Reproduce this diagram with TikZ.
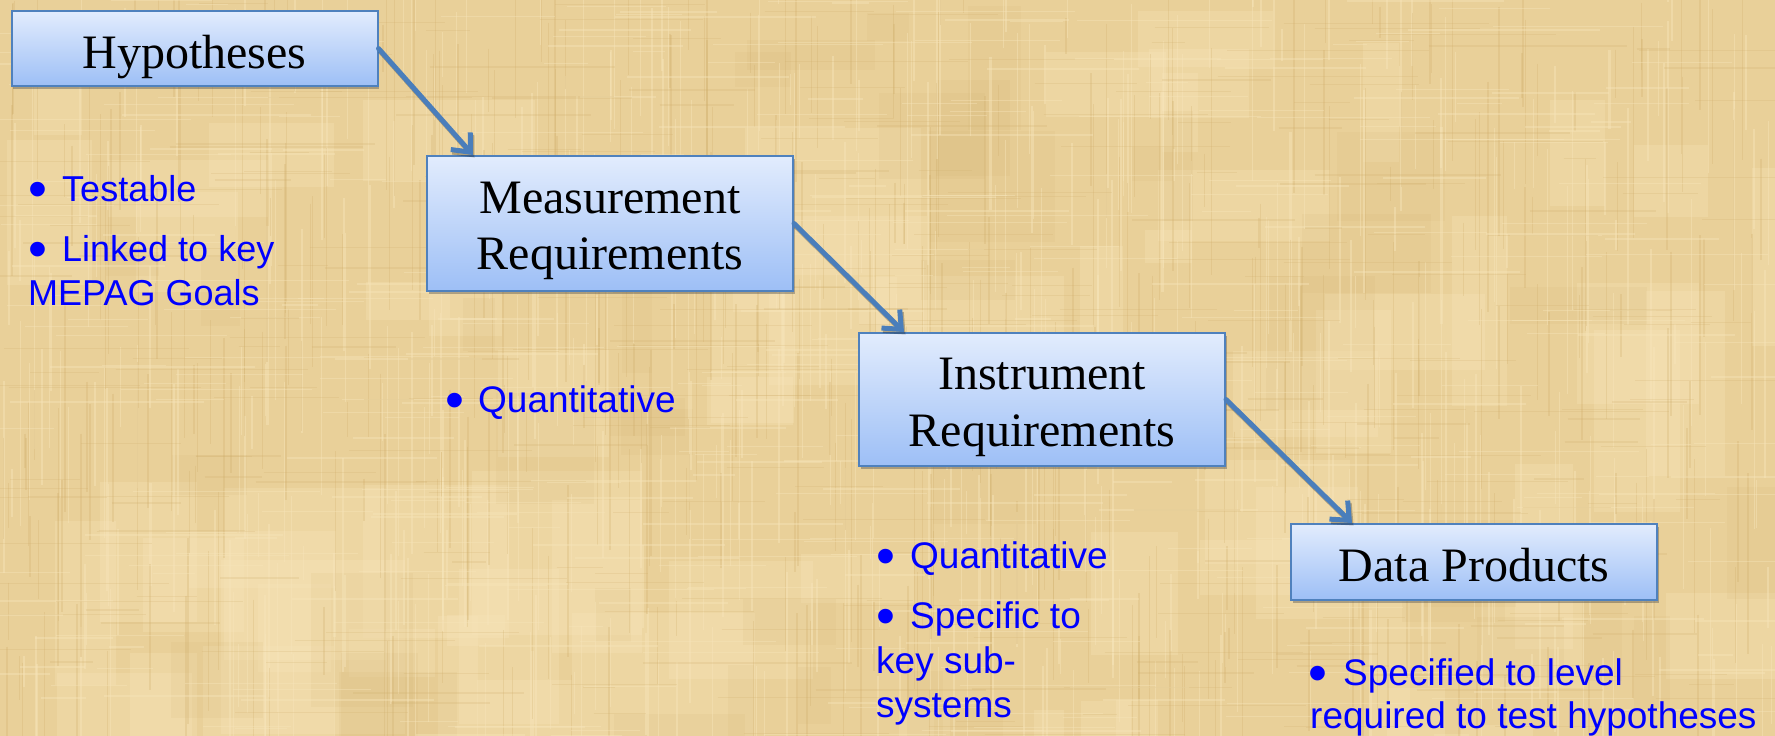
\documentclass[tikz,border=0pt]{standalone}
\usepackage{fontspec}
\setmainfont{Liberation Serif}
\newfontfamily\arialf{Liberation Sans}
\usetikzlibrary{arrows.meta,shadows,calc}
\definecolor{paper}{RGB}{233,208,153}
\definecolor{paperlight}{RGB}{247,229,186}
\definecolor{paperdark}{RGB}{206,172,104}
\definecolor{boxborder}{RGB}{79,129,189}
\definecolor{boxtop}{RGB}{226,236,253}
\definecolor{boxbot}{RGB}{157,191,246}
\definecolor{arrowblue}{RGB}{74,126,187}
\definecolor{bulblue}{RGB}{0,0,255}
\newcommand{\bigbul}[1]{\makebox[0pt][l]{\raisebox{-6pt}{\fontsize{54}{54}\selectfont •}}\hspace{#1}}
\tikzset{
  box/.style={draw=boxborder, line width=2pt, top color=boxtop, bottom color=boxbot,
    minimum width=366pt, inner sep=0pt,
    drop shadow={shadow xshift=1.5pt, shadow yshift=-3pt, opacity=0.4, fill=black!70}},
  boxlabel/.style={font=\fontsize{48}{56}\selectfont, inner sep=0pt, anchor=base},
  bullettext/.style={font=\arialf\fontsize{37}{44}\selectfont, text=bulblue, inner sep=0pt, anchor=base west},
  bullettextsmall/.style={bullettext, font=\arialf\fontsize{36}{44}\selectfont},
  conn/.style={draw=arrowblue, line width=5pt, line cap=round,
    -{Straight Barb[length=15pt, width=26pt, line width=5pt]}},
  connshadow/.style={draw=black, opacity=0.25, line width=5pt,
    -{Straight Barb[length=15pt, width=26pt, line width=5pt]}},
}
\begin{document}
\begin{tikzpicture}[x=1pt,y=-1pt]
\useasboundingbox (0,0) rectangle (1775,736);
% parchment background
\fill[paper] (0,0) rectangle (1775,736);
\pgfmathsetseed{7}
\foreach \i in {1,...,70}{
  \pgfmathsetmacro\xx{rnd*1775}
  \pgfmathsetmacro\yy{rnd*736}
  \pgfmathsetmacro\ww{30+rnd*160}
  \pgfmathsetmacro\hh{30+rnd*160}
  \fill[paperlight, opacity=0.3] (\xx,\yy) rectangle ++(\ww,\hh);
}
\foreach \i in {1,...,40}{
  \pgfmathsetmacro\xx{rnd*1775}
  \pgfmathsetmacro\yy{rnd*736}
  \pgfmathsetmacro\ww{20+rnd*120}
  \pgfmathsetmacro\hh{20+rnd*120}
  \fill[paperdark, opacity=0.1] (\xx,\yy) rectangle ++(\ww,\hh);
}
\foreach \i in {1,...,500}{
  \pgfmathsetmacro\xx{rnd*1775}
  \pgfmathsetmacro\yy{rnd*736-60}
  \pgfmathsetmacro\ll{30+rnd*200}
  \pgfmathsetmacro\lw{0.6+rnd*1.6}
  \draw[paperlight, line width=\lw pt, opacity=0.45] (\xx,\yy) -- ++(0,\ll);
}
\foreach \i in {1,...,420}{
  \pgfmathsetmacro\xx{rnd*1775}
  \pgfmathsetmacro\yy{rnd*736-60}
  \pgfmathsetmacro\ll{30+rnd*200}
  \pgfmathsetmacro\lw{0.6+rnd*1.4}
  \draw[paperdark, line width=\lw pt, opacity=0.25] (\xx,\yy) -- ++(0,\ll);
}
\foreach \i in {1,...,380}{
  \pgfmathsetmacro\xx{rnd*1775-60}
  \pgfmathsetmacro\yy{rnd*736}
  \pgfmathsetmacro\ll{30+rnd*180}
  \pgfmathsetmacro\lw{0.6+rnd*1.4}
  \draw[paperlight, line width=\lw pt, opacity=0.4] (\xx,\yy) -- ++(\ll,0);
}
\foreach \i in {1,...,300}{
  \pgfmathsetmacro\xx{rnd*1775-60}
  \pgfmathsetmacro\yy{rnd*736}
  \pgfmathsetmacro\ll{30+rnd*180}
  \pgfmathsetmacro\lw{0.6+rnd*1.2}
  \draw[paperdark, line width=\lw pt, opacity=0.2] (\xx,\yy) -- ++(\ll,0);
}

% boxes
\node[box, minimum height=75pt]  (hyp)  at (194.5,48.5) {};
\node[box, minimum height=135pt] (meas) at (610,223.5) {};
\node[box, minimum height=133pt] (inst) at (1042,399.5) {};
\node[box, minimum height=76pt]  (data) at (1474,562) {};

% box labels
\node[boxlabel] (hypl)   at ([yshift=-19.5pt]hyp.center)  {Hypotheses};
\node[boxlabel] (measl1) at ([yshift=10.5pt]meas.center)  {Measurement};
\node[boxlabel] (measl2) at ([yshift=-45.5pt]meas.center) {Requirements};
\node[boxlabel] (instl1) at ([yshift=10.5pt]inst.center)  {Instrument};
\node[boxlabel] (instl2) at ([yshift=-46.5pt]inst.center) {Requirements};
\node[boxlabel] (datal)  at ([yshift=-19pt]data.center)   {Data Products};

% connectors (shadows then arrows)
\coordinate (e1) at ($(meas.north west)+(47,0)$);
\coordinate (e2) at ($(inst.north west)+(46,0)$);
\coordinate (e3) at ($(data.north west)+(62,0)$);
\draw[connshadow] ([xshift=1.5pt,yshift=-2.5pt]hyp.east)  -- ([xshift=1.5pt,yshift=-2.5pt]e1);
\draw[connshadow] ([xshift=1.5pt,yshift=-2.5pt]meas.east) -- ([xshift=1.5pt,yshift=-2.5pt]e2);
\draw[connshadow] ([xshift=1.5pt,yshift=-2.5pt]inst.east) -- ([xshift=1.5pt,yshift=-2.5pt]e3);
\draw[conn] (hyp.east)  -- (e1);
\draw[conn] (meas.east) -- (e2);
\draw[conn] (inst.east) -- (e3);

% bullet texts
\node[bullettextsmall] (h1) at (28,201) {\bigbul{34pt}Testable};
\node[bullettextsmall] (h2) at (28,261) {\bigbul{34pt}Linked to key};
\node[bullettextsmall] (h3) at (28,305) {MEPAG Goals};
\node[bullettext] (m1) at (445,412) {\bigbul{33pt}Quantitative};
\node[bullettext] (i1) at (876,568) {\bigbul{34pt}Quantitative};
\node[bullettext] (i2) at (876,628) {\bigbul{34pt}Specific to};
\node[bullettext] (i3) at (876,673) {key sub-};
\node[bullettext] (i4) at (876,717) {systems};
\node[bullettext] (d1) at (1308,685) {\bigbul{35pt}Specified to level};
\node[bullettext] (d2) at (1310,728) {required to test hypotheses};
\end{tikzpicture}
\end{document}
